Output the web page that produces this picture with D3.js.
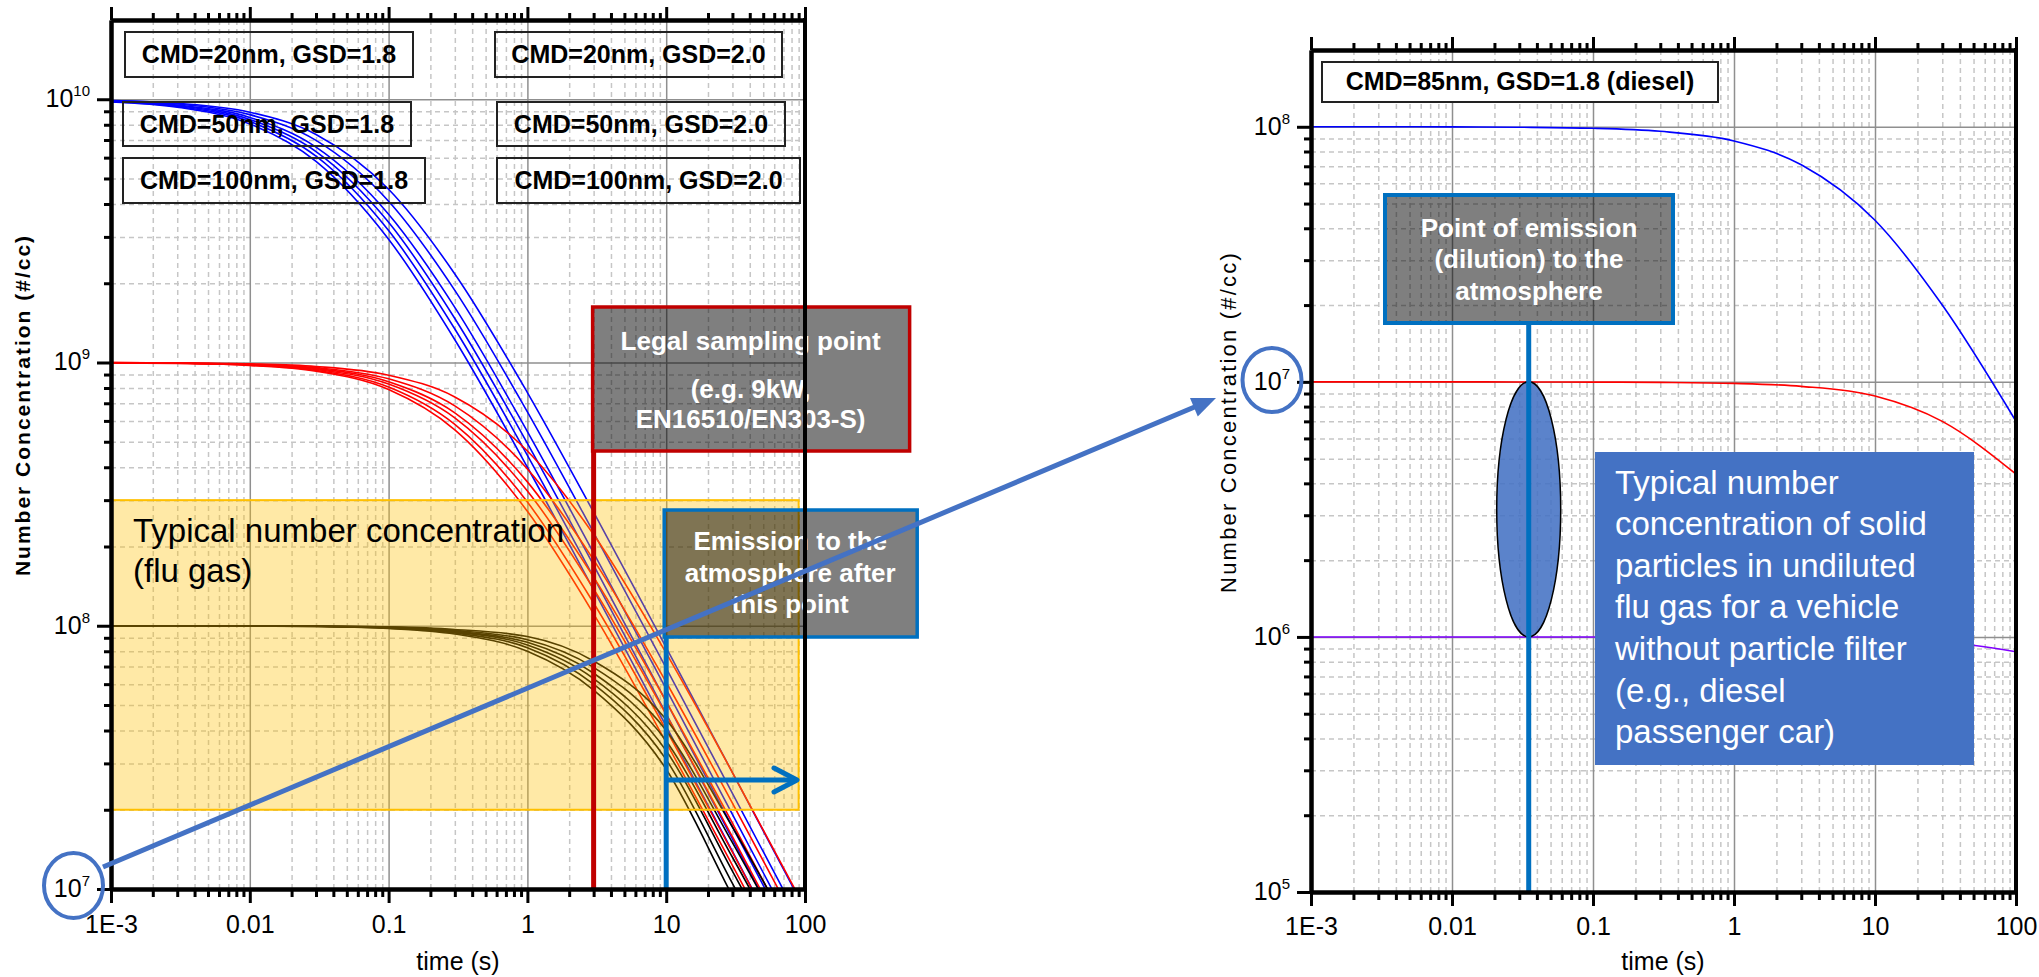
<!DOCTYPE html>
<html>
<head>
<meta charset="utf-8">
<script src="https://cdn.jsdelivr.net/npm/d3@7"></script>
<style>
  body { margin: 0; background: #fff; }
  svg { display: block; font-family: "Liberation Sans", Arial, sans-serif; }
</style>
</head>
<body>
<div id="chart"></div>
<script>
const timeGrid = [0.001, 0.003, 0.01, 0.03, 0.1, 0.3, 1, 3, 10, 30, 100];

// Left panel: flue gas, six size distributions per start concentration
const fluBlue = [
  [9.77e9, 9.33e9, 8.06e9, 5.81e9, 2.94e9, 1.22e9, 4.0e8, 1.37e8, 4.15e7, 1.39e7, 4.16e6],
  [9.79e9, 9.39e9, 8.23e9, 6.08e9, 3.17e9, 1.34e9, 4.44e8, 1.53e8, 4.63e7, 1.55e7, 4.65e6],
  [9.81e9, 9.45e9, 8.38e9, 6.33e9, 3.41e9, 1.47e9, 4.93e8, 1.70e8, 5.15e7, 1.72e7, 5.18e6],
  [9.83e9, 9.51e9, 8.53e9, 6.58e9, 3.66e9, 1.62e9, 5.46e8, 1.89e8, 5.75e7, 1.92e7, 5.78e6],
  [9.86e9, 9.59e9, 8.74e9, 6.98e9, 4.10e9, 1.88e9, 6.49e8, 2.26e8, 6.90e7, 2.31e7, 6.94e6],
  [9.88e9, 9.65e9, 8.93e9, 7.35e9, 4.55e9, 2.17e9, 7.69e8, 2.70e8, 8.26e7, 2.77e7, 8.33e6]
];
const fluRed = [
  [9.97e8, 9.92e8, 9.74e8, 9.26e8, 7.89e8, 5.55e8, 2.72e8, 1.11e8, 3.60e7, 1.23e7, 3.72e6],
  [9.98e8, 9.93e8, 9.77e8, 9.33e8, 8.07e8, 5.82e8, 2.95e8, 1.22e8, 4.02e7, 1.38e7, 4.17e6],
  [9.98e8, 9.94e8, 9.80e8, 9.41e8, 8.28e8, 6.16e8, 3.25e8, 1.38e8, 4.59e7, 1.58e7, 4.78e6],
  [9.98e8, 9.95e8, 9.82e8, 9.48e8, 8.45e8, 6.44e8, 3.52e8, 1.53e8, 5.15e7, 1.78e7, 5.40e6],
  [9.99e8, 9.95e8, 9.85e8, 9.56e8, 8.67e8, 6.84e8, 3.94e8, 1.78e8, 6.10e7, 2.12e7, 6.45e6],
  [9.99e8, 9.96e8, 9.88e8, 9.66e8, 8.95e8, 7.40e8, 4.61e8, 2.22e8, 7.87e7, 2.77e7, 8.47e6]
];
const fluBlack = [
  [1e8, 1e8, 9.98e7, 9.93e7, 9.76e7, 9.30e7, 8.00e7, 5.70e7, 2.85e7, 9.4e6, 2.8e6],
  [1e8, 1e8, 9.98e7, 9.94e7, 9.79e7, 9.38e7, 8.25e7, 6.00e7, 3.10e7, 1.05e7, 3.2e6],
  [1e8, 1e8, 9.98e7, 9.95e7, 9.82e7, 9.46e7, 8.45e7, 6.30e7, 3.35e7, 1.17e7, 3.6e6],
  [1e8, 1e8, 9.99e7, 9.96e7, 9.85e7, 9.52e7, 8.65e7, 6.60e7, 3.65e7, 1.32e7, 4.1e6],
  [1e8, 1e8, 9.99e7, 9.97e7, 9.88e7, 9.60e7, 8.85e7, 6.95e7, 4.00e7, 1.50e7, 4.7e6],
  [1e8, 1e8, 9.99e7, 9.97e7, 9.90e7, 9.68e7, 9.10e7, 7.35e7, 4.40e7, 1.72e7, 5.5e6]
];

// Right panel: diesel, CMD=85nm GSD=1.8
const dieselBlue   = [1e8, 1e8, 9.99e7, 9.96e7, 9.87e7, 9.6e7, 8.8e7, 7.1e7, 4.3e7, 2.0e7, 7.0e6];
const dieselRed    = [1e7, 1e7, 1e7, 9.99e6, 9.98e6, 9.95e6, 9.86e6, 9.6e6, 8.8e6, 7.0e6, 4.35e6];
const dieselPurple = [1e6, 1e6, 1e6, 1e6, 1e6, 1e6, 9.99e5, 9.96e5, 9.87e5, 9.6e5, 8.75e5];

// Axis ticks and labels
const xMajor = [1e-3, 1e-2, 1e-1, 1, 10, 100];
const xTickLabels = ["1E-3", "0.01", "0.1", "1", "10", "100"];
const leftYMajor = [1e7, 1e8, 1e9, 1e10];
const leftYExp = ["7", "8", "9", "10"];
const rightYMajor = [1e5, 1e6, 1e7, 1e8];
const rightYExp = ["5", "6", "7", "8"];

// Marked times and the typical flue gas band
const legalSamplingTime = 3;
const emissionTime = 10;
const dieselEmissionTime = 0.035;
const fluGasBand = [2e7, 3e8];

const leftLegend = ["CMD=20nm, GSD=1.8", "CMD=20nm, GSD=2.0",
                    "CMD=50nm, GSD=1.8", "CMD=50nm, GSD=2.0",
                    "CMD=100nm, GSD=1.8", "CMD=100nm, GSD=2.0"];
const rightLegend = "CMD=85nm, GSD=1.8 (diesel)";

const svg = d3.select("#chart").append("svg").attr("width", 2039).attr("height", 977);
const defs = svg.append("defs");

// scales
const xL = d3.scaleLog().domain([1e-3, 100]).range([111, 805]);
const yL = d3.scaleLog().domain([1e7, 2e10]).range([889, 20]);
const xR = d3.scaleLog().domain([1e-3, 100]).range([1311, 2016]);
const yR = d3.scaleLog().domain([1e5, 2e8]).range([892, 50]);

function minorTicks([lo, hi]) {
  const out = [];
  for (let e = Math.floor(Math.log10(lo)); e <= Math.ceil(Math.log10(hi)); e++) {
    for (let k = 2; k <= 9; k++) {
      const v = +(k * Math.pow(10, e)).toPrecision(3);
      if (v > lo && v < hi) out.push(v);
    }
  }
  return out;
}

function drawGrid(g, x, y, yMajor) {
  const [x0, x1] = x.range(), [y1, y0] = y.range();
  const w = x1 - x0, h = y1 - y0;
  const style = (sel, major) => {
    sel.select(".domain").remove();
    sel.selectAll("text").remove();
    sel.selectAll("line")
      .attr("stroke", major ? "#8f8f8f" : "#c6c6c6")
      .attr("stroke-width", 1.5)
      .attr("stroke-dasharray", major ? null : "5,4");
  };
  g.append("g").attr("transform", `translate(0,${y1})`)
    .call(d3.axisBottom(x).tickValues(minorTicks(x.domain())).tickSize(-h))
    .call(s => style(s, false));
  g.append("g").attr("transform", `translate(${x0},0)`)
    .call(d3.axisLeft(y).tickValues(minorTicks(y.domain())).tickSize(-w))
    .call(s => style(s, false));
  g.append("g").attr("transform", `translate(0,${y1})`)
    .call(d3.axisBottom(x).tickValues(xMajor.slice(1, -1)).tickSize(-h))
    .call(s => style(s, true));
  g.append("g").attr("transform", `translate(${x0},0)`)
    .call(d3.axisLeft(y).tickValues(yMajor.slice(1)).tickSize(-w))
    .call(s => style(s, true));
}

function drawAxes(g, x, y, yMajor, yExp, labelY) {
  const [x0, x1] = x.range(), [y1, y0] = y.range();
  const thick = sel => {
    sel.select(".domain").attr("stroke", "#000").attr("stroke-width", 4);
    sel.selectAll(".tick line").attr("stroke", "#000").attr("stroke-width", 3);
  };
  // bottom
  g.append("g").attr("transform", `translate(0,${y1})`)
    .call(d3.axisBottom(x).tickValues(minorTicks(x.domain())).tickSize(8).tickSizeOuter(0).tickFormat(""))
    .call(thick);
  g.append("g").attr("transform", `translate(0,${y1})`)
    .call(d3.axisBottom(x).tickValues(xMajor).tickSize(14).tickSizeOuter(0).tickFormat((d, i) => xTickLabels[i]))
    .call(thick)
    .call(s => s.selectAll("text").attr("y", labelY).attr("dy", 0)
      .attr("font-size", 25).attr("font-family", "'Liberation Sans', Arial, sans-serif").attr("fill", "#000"));
  // top
  g.append("g").attr("transform", `translate(0,${y0})`)
    .call(d3.axisTop(x).tickValues(minorTicks(x.domain())).tickSize(7).tickSizeOuter(0).tickFormat(""))
    .call(thick);
  g.append("g").attr("transform", `translate(0,${y0})`)
    .call(d3.axisTop(x).tickValues(xMajor).tickSize(13).tickSizeOuter(0).tickFormat(""))
    .call(thick);
  // left
  g.append("g").attr("transform", `translate(${x0},0)`)
    .call(d3.axisLeft(y).tickValues(minorTicks(y.domain())).tickSize(7).tickSizeOuter(0).tickFormat(""))
    .call(thick);
  g.append("g").attr("transform", `translate(${x0},0)`)
    .call(d3.axisLeft(y).tickValues(yMajor).tickSize(14).tickSizeOuter(0).tickFormat(""))
    .call(thick);
  // right frame
  g.append("line").attr("x1", x1).attr("x2", x1).attr("y1", y0 - 2).attr("y2", y1 + 2)
    .attr("stroke", "#000").attr("stroke-width", 4);
  // power-of-ten labels
  g.append("g").selectAll("text").data(yMajor).join("text")
    .attr("x", x0 - 21).attr("y", d => y(d) + 8)
    .attr("text-anchor", "end").attr("font-size", 25)
    .each(function (d, i) {
      const t = d3.select(this);
      t.append("tspan").text("10");
      t.append("tspan").attr("dy", -11).attr("font-size", 15).text(yExp[i]);
    });
}

function drawCurves(g, x, y, series, color, clipId) {
  const line = d3.line()
    .x((d, i) => x(timeGrid[i]))
    .y(d => y(d))
    .curve(d3.curveMonotoneX);
  g.append("g").attr("clip-path", `url(#${clipId})`)
    .selectAll("path").data(series).join("path")
    .attr("d", line)
    .attr("fill", "none")
    .attr("stroke", color)
    .attr("stroke-width", 1.6);
}

function addClip(id, x, y) {
  defs.append("clipPath").attr("id", id).append("rect")
    .attr("x", x.range()[0]).attr("y", y.range()[1])
    .attr("width", x.range()[1] - x.range()[0])
    .attr("height", y.range()[0] - y.range()[1]);
}

function textLines(g, lines, x, baselines, opts) {
  g.append("g").selectAll("text").data(lines).join("text")
    .attr("x", x).attr("y", (d, i) => baselines[i])
    .attr("text-anchor", opts.anchor || "middle")
    .attr("font-size", opts.size)
    .attr("font-weight", opts.weight || "normal")
    .attr("fill", opts.fill || "#000")
    .text(d => d);
}

// ---------------- left panel ----------------
const left = svg.append("g");
addClip("clipL", xL, yL);
drawGrid(left, xL, yL, leftYMajor);
drawCurves(left, xL, yL, fluBlue, "#0000ff", "clipL");
drawCurves(left, xL, yL, fluRed, "#ff0000", "clipL");
drawCurves(left, xL, yL, fluBlack, "#000000", "clipL");

// typical flue gas band
left.append("rect")
  .attr("x", xL(1e-3)).attr("y", yL(fluGasBand[1]))
  .attr("width", xL(90) - xL(1e-3)).attr("height", yL(fluGasBand[0]) - yL(fluGasBand[1]))
  .attr("fill", "#ffc000").attr("fill-opacity", 0.35)
  .attr("stroke", "#ffc000").attr("stroke-width", 2);
textLines(left, ["Typical number concentration", "(flu gas)"], 133, [542, 582], { size: 33, anchor: "start" });

// size distribution labels
const legendBoxes = [
  [125, 32, 288, 45], [495, 32, 287, 45],
  [123, 102, 288, 44], [497, 102, 288, 44],
  [123, 158, 302, 45], [497, 158, 303, 45]
];
leftLegend.forEach((label, i) => {
  const [bx, by, bw, bh] = legendBoxes[i];
  left.append("rect").attr("x", bx).attr("y", by).attr("width", bw).attr("height", bh)
    .attr("fill", "none").attr("stroke", "#222").attr("stroke-width", 2);
  left.append("text").attr("x", bx + bw / 2).attr("y", by + 31)
    .attr("text-anchor", "middle").attr("font-size", 25).attr("font-weight", "bold")
    .text(label);
});

// legal sampling point
const xLegal = xL(legalSamplingTime);
left.append("line").attr("x1", xLegal).attr("x2", xLegal).attr("y1", 451).attr("y2", yL.range()[0])
  .attr("stroke", "#c00000").attr("stroke-width", 5);
left.append("rect").attr("x", xLegal - 1).attr("y", 307).attr("width", 317).attr("height", 144)
  .attr("fill", "#000").attr("fill-opacity", 0.5)
  .attr("stroke", "#c00000").attr("stroke-width", 3.5);
textLines(left, ["Legal sampling point", "(e.g. 9kW,", "EN16510/EN303-S)"], xLegal + 157,
  [350, 398, 428], { size: 26, weight: "bold", fill: "#fff" });

// emission to the atmosphere
const xEmit = xL(emissionTime);
left.append("line").attr("x1", xEmit).attr("x2", xEmit).attr("y1", 637).attr("y2", yL.range()[0])
  .attr("stroke", "#0070c0").attr("stroke-width", 5);
left.append("rect").attr("x", xEmit - 2).attr("y", 510).attr("width", 253).attr("height", 127)
  .attr("fill", "#000").attr("fill-opacity", 0.5)
  .attr("stroke", "#0070c0").attr("stroke-width", 3.5);
textLines(left, ["Emission to the", "atmosphere after", "this point"], xEmit + 124,
  [550, 582, 613], { size: 26, weight: "bold", fill: "#fff" });
left.append("line").attr("x1", xEmit).attr("x2", 796).attr("y1", 780).attr("y2", 780)
  .attr("stroke", "#0070c0").attr("stroke-width", 5);
left.append("path").attr("d", "M774,768L797,780L774,792")
  .attr("fill", "none").attr("stroke", "#0070c0").attr("stroke-width", 5)
  .attr("stroke-linecap", "round").attr("stroke-linejoin", "round");

drawAxes(left, xL, yL, leftYMajor, leftYExp, 44);

left.append("text").attr("transform", "translate(30,405) rotate(-90)")
  .attr("text-anchor", "middle").attr("font-size", 21).attr("font-weight", "bold")
  .attr("letter-spacing", 2)
  .text("Number Concentration (#/cc)");
left.append("text").attr("x", 458).attr("y", 970).attr("text-anchor", "middle")
  .attr("font-size", 25).text("time (s)");

// ---------------- right panel ----------------
const right = svg.append("g");
addClip("clipR", xR, yR);
drawGrid(right, xR, yR, rightYMajor);
drawCurves(right, xR, yR, [dieselBlue], "#0000ff", "clipR");
drawCurves(right, xR, yR, [dieselRed], "#ff0000", "clipR");
drawCurves(right, xR, yR, [dieselPurple], "#8000ff", "clipR");

right.append("rect").attr("x", 1322).attr("y", 62).attr("width", 396).attr("height", 40)
  .attr("fill", "#fff").attr("stroke", "#222").attr("stroke-width", 2);
right.append("text").attr("x", 1520).attr("y", 90).attr("text-anchor", "middle")
  .attr("font-size", 25).attr("font-weight", "bold").text(rightLegend);

const xDiesel = xR(dieselEmissionTime);
right.append("ellipse")
  .attr("cx", xDiesel).attr("cy", (yR(1e7) + yR(1e6)) / 2)
  .attr("rx", 32).attr("ry", (yR(1e6) - yR(1e7)) / 2)
  .attr("fill", "#4472c4").attr("fill-opacity", 0.88)
  .attr("stroke", "#000").attr("stroke-width", 1.5);
right.append("line").attr("x1", xDiesel).attr("x2", xDiesel).attr("y1", 323).attr("y2", yR.range()[0])
  .attr("stroke", "#0070c0").attr("stroke-width", 5);
right.append("rect").attr("x", 1385).attr("y", 195).attr("width", 288).attr("height", 128)
  .attr("fill", "#000").attr("fill-opacity", 0.5)
  .attr("stroke", "#0070c0").attr("stroke-width", 4);
textLines(right, ["Point of emission", "(dilution) to the", "atmosphere"], 1529,
  [237, 268, 300], { size: 26, weight: "bold", fill: "#fff" });

right.append("rect").attr("x", 1595).attr("y", 452).attr("width", 379).attr("height", 313)
  .attr("fill", "#4472c4");
textLines(right, ["Typical number", "concentration of solid", "particles in undiluted",
  "flu gas for a vehicle", "without particle filter", "(e.g., diesel", "passenger car)"], 1615,
  d3.range(7).map(i => 493.5 + i * 41.6), { size: 33, anchor: "start", fill: "#fff" });

drawAxes(right, xR, yR, rightYMajor, rightYExp, 43);

right.append("text").attr("transform", "translate(1236,422) rotate(-90)")
  .attr("text-anchor", "middle").attr("font-size", 22).attr("letter-spacing", 2.2)
  .text("Number Concentration (#/cc)");
right.append("text").attr("x", 1663).attr("y", 970).attr("text-anchor", "middle")
  .attr("font-size", 25).text("time (s)");

// ---------------- zoom connector ----------------
const over = svg.append("g");
over.append("ellipse").attr("cx", 73.5).attr("cy", 885.5).attr("rx", 29.5).attr("ry", 32.5)
  .attr("fill", "none").attr("stroke", "#4472c4").attr("stroke-width", 4);
over.append("ellipse").attr("cx", 1272).attr("cy", 380).attr("rx", 29.5).attr("ry", 32)
  .attr("fill", "none").attr("stroke", "#4472c4").attr("stroke-width", 4);

const start = [103, 867], tip = [1216, 398];
const len = Math.hypot(tip[0] - start[0], tip[1] - start[1]);
const ux = (tip[0] - start[0]) / len, uy = (tip[1] - start[1]) / len;
const headLen = 24, headHalf = 10;
const base = [tip[0] - ux * headLen, tip[1] - uy * headLen];
over.append("line").attr("x1", start[0]).attr("y1", start[1])
  .attr("x2", base[0] + ux * 2).attr("y2", base[1] + uy * 2)
  .attr("stroke", "#4472c4").attr("stroke-width", 5);
over.append("path")
  .attr("d", `M${tip[0]},${tip[1]}L${base[0] - uy * headHalf},${base[1] + ux * headHalf}L${base[0] + uy * headHalf},${base[1] - ux * headHalf}Z`)
  .attr("fill", "#4472c4");
</script>
</body>
</html>
